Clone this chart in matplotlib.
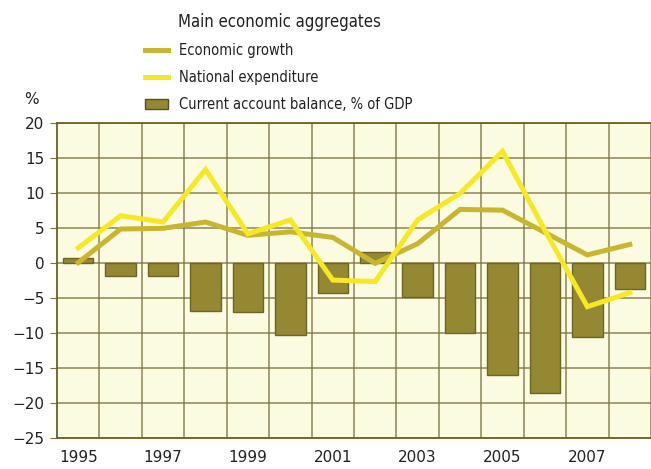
import matplotlib
matplotlib.use('Agg')
import matplotlib.pyplot as plt
from matplotlib.lines import Line2D
from matplotlib.patches import Patch

years = [1995, 1996, 1997, 1998, 1999, 2000, 2001, 2002, 2003, 2004, 2005, 2006, 2007, 2008]
growth = [0.0, 4.8, 4.9, 5.8, 3.9, 4.4, 3.6, -0.1, 2.7, 7.6, 7.5, 4.3, 1.1, 2.6]
expenditure = [2.1, 6.7, 5.8, 13.3, 4.1, 6.1, -2.5, -2.7, 6.1, 9.9, 15.9, 4.6, -6.3, -4.3]
current_account = [0.7, -1.9, -1.9, -6.9, -7.0, -10.3, -4.4, 1.5, -4.9, -10.0, -16.1, -18.7, -10.7, -3.8]

bg = '#fafbe0'
bar_col = '#948832'
bar_edge = '#6e6424'
growth_col = '#c9b52f'
exp_col = '#f6e824'
grid_col = '#7d7440'
text_col = '#222222'

plt.rcParams['font.family'] = 'DejaVu Sans'
plt.rcParams['text.color'] = text_col
plt.rcParams['xtick.color'] = text_col
plt.rcParams['ytick.color'] = text_col
fig = plt.figure(figsize=(6.51, 4.69), dpi=100)
ax = fig.add_axes([57 / 651, 31.5 / 469, 1 - 57 / 651, (437.5 - 122.7) / 469])
ax.set_facecolor(bg)

x = list(range(len(years)))
ax.bar(x, current_account, width=0.72, color=bar_col, edgecolor=bar_edge, linewidth=1, zorder=2)
ax.plot(x, growth, color=growth_col, linewidth=3.6, zorder=3, solid_joinstyle='miter')
ax.plot(x, expenditure, color=exp_col, linewidth=3.6, zorder=4, solid_joinstyle='miter')

ax.set_ylim(-25, 20)
ax.set_xlim(-0.5, 13.41)
ax.set_yticks(range(-25, 21, 5))
ax.set_xticks(x[::2])
ax.set_xticklabels([str(y) for y in years[::2]])
ax.set_xticks([i - 0.5 for i in range(1, 15)], minor=True)

ax.grid(axis='y', color=grid_col, linewidth=1.2, alpha=0.8, zorder=1)
ax.grid(axis='x', which='minor', color=grid_col, linewidth=1.2, alpha=0.8, zorder=1)
ax.set_axisbelow(True)
ax.tick_params(axis='x', which='both', length=0, labelsize=11, pad=9)
ax.tick_params(axis='y', length=5, color=grid_col, labelcolor=text_col, labelsize=11, pad=4)
for s in ['top', 'bottom', 'left']:
    ax.spines[s].set_color('#6b6022')
    ax.spines[s].set_linewidth(1.3)
ax.spines['right'].set_visible(False)

fig.text(31 / 651, 1 - 99 / 469, '%', fontsize=11, ha='center', va='center')

handles = [
    Line2D([], [], color=growth_col, linewidth=3.6),
    Line2D([], [], color=exp_col, linewidth=3.6),
    Patch(facecolor=bar_col, edgecolor='#555020', linewidth=1),
]
labels = ['Economic growth', 'National expenditure', 'Current account balance, % of GDP']
leg = fig.legend(handles, labels, title='Main economic aggregates', loc='upper left',
                 bbox_to_anchor=(132 / 651, 1 + 0 / 469), frameon=False,
                 prop={'family': 'DejaVu Sans', 'stretch': 'condensed', 'size': 10.5},
                 title_fontproperties={'family': 'DejaVu Sans', 'stretch': 'condensed', 'size': 12},
                 handlelength=1.6, handletextpad=0.75, labelspacing=0.82)

fig.savefig('out.png', dpi=100)
